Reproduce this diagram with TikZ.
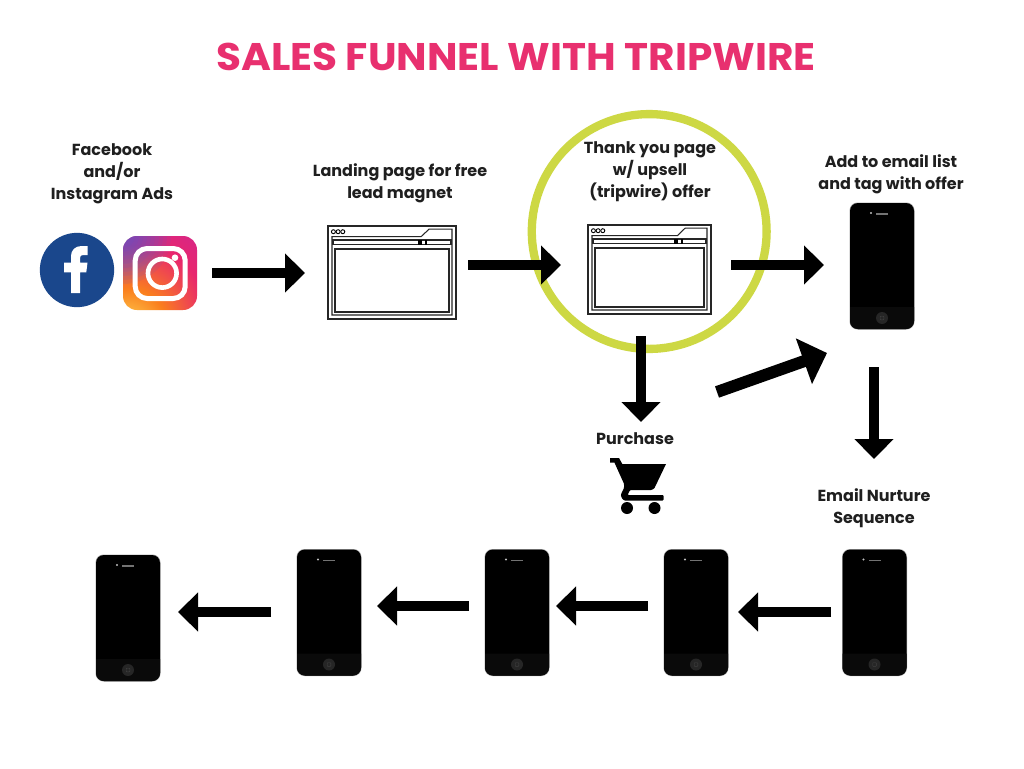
\documentclass[tikz,border=0pt]{standalone}
\usepackage{fontspec}
\setmainfont{Poppins}[BoldFont={Poppins Bold}]
\usetikzlibrary{arrows.meta}
\definecolor{titlepink}{HTML}{E8306F}
\definecolor{ringgreen}{HTML}{CDD844}
\definecolor{fbblue}{HTML}{1A478C}
\definecolor{lbl}{HTML}{1F1F1F}
\definecolor{igY}{HTML}{FED350}
\definecolor{igO}{HTML}{FA7E1E}
\definecolor{igR}{HTML}{E8266E}
\definecolor{igM}{HTML}{C9259A}
\definecolor{igP}{HTML}{A32CB8}
\definecolor{igB}{HTML}{4F5BD5}
\pgfdeclareradialshading{igshade}{\pgfpoint{-27bp}{-46bp}}{%
 color(0bp)=(igY);color(8bp)=(igY);color(26bp)=(igO);color(48bp)=(igR);color(72bp)=(igM);color(100bp)=(igP);color(125bp)=(igP)}
\tikzset{
 x=1pt,y=-1pt,
 lab/.style={font=\bfseries\fontsize{16}{22}\selectfont,text=lbl,align=center,inner sep=0pt},
 bigarrow/.style={line width=9.5pt,-{Triangle[length=20pt,width=38pt]},black},
 diagarrow/.style={line width=12pt,-{Triangle[length=24.5pt,width=47pt]},black},
 wline/.style={draw=black!85,line width=1.05pt,fill=white},
 anchorpt/.style={inner sep=0pt,minimum size=0pt},
 pics/phone/.style={code={
  \fill[black!35,rounded corners=8pt] (-32.5,-63.5) rectangle (32.5,63.5);
  \fill[black,rounded corners=8pt] (-32,-63) rectangle (32,63);
  \fill[black!96] (-32,41) -- (32,41) -- (32,55) [rounded corners=8pt] -- (32,63) -- (-32,63) [sharp corners] -- (-32,55) -- cycle;
  \fill[black!55] (-6,-52.6) rectangle (6,-51.2);
  \fill[black!25] (-11,-53) circle (1.1pt);
  \fill[black!85] (0,52) circle (6pt);
  \draw[black!75,line width=.4pt,rounded corners=.6pt] (-1.8,50.2) rectangle (1.8,53.8);
 }},
}
\newcommand{\browserbody}[2]{% width, height, origin at top left
  \draw[wline] (0,0) rectangle (#1,#2);
  \draw[wline] (4,10.7) -- (93*#1/128,10.7) -- (101*#1/128,3.2) -- (#1-4,3.2) -- (#1-4,#2-4) -- (4,#2-4) -- cycle;
  \draw[wline] (5,14) rectangle (#1-5,18.5);
  \fill (90*#1/128,14) rectangle (94*#1/128,18.5);
  \fill (97*#1/128,14) rectangle (99*#1/128,18.5);
  \draw[wline] (7,23) rectangle (#1-7,#2-7);
  \foreach \i in {0,1,2}{\draw[black,line width=.9pt] (5.4+4.7*\i,5.7) circle (2pt);}
}
\tikzset{pics/browser/.style 2 args={code={\browserbody{#1}{#2}}}}
\begin{document}
\begin{tikzpicture}
\useasboundingbox (0,0) rectangle (1024,768);
\fill[white] (0,0) rectangle (1024,768);

\node[font=\bfseries\fontsize{38.5}{44}\selectfont,text=titlepink,inner sep=0pt,xscale=1.055] (title) at (516,57) {SALES FUNNEL WITH TRIPWIRE};

% ring
\draw[ringgreen,line width=8.3pt] (649.2,231.5) circle (117.4pt);

% labels
\node[lab] (lFb) at (112,174) {Facebook\\and/or\\Instagram Ads};
\node[lab] (lLand) at (400,183) {Landing page for free\\lead magnet};
\node[lab] (lThank) at (650,172) {Thank you page\\w/ upsell\\(tripwire) offer};
\node[lab] (lEmail) at (891,174) {Add to email list\\and tag with offer};
\node[lab] (lPurch) at (635,439) {Purchase};
\node[lab] (lNurt) at (874,508) {Email Nurture\\Sequence};

% facebook
\node[circle,fill=fbblue,minimum size=74.3pt,inner sep=0pt] (fb) at (77,270) {};
\fill[white] (71,293) -- (71,272.3) -- (64,272.3) -- (64,262.7) -- (71,262.7) -- (71,256)
  .. controls (71,250) and (75.5,246) .. (81.5,246) -- (87.7,246) -- (87.7,255) -- (83,255)
  .. controls (81,255) and (80,256) .. (80,258) -- (80,262.7) -- (87.5,262.7) -- (86.3,272.3) -- (80,272.3) -- (80,293) -- cycle;

% instagram
\begin{scope}
 \clip[rounded corners=14pt] (123,236) rectangle (197,310);
 \node[anchorpt,minimum width=74pt,minimum height=74pt] (ig) at (160,273) {};
 \shade[shading=igshade] (123,236) rectangle (197,310);
 \foreach \r in {4,8,...,48}{\fill[igB,opacity=.1] (123,236) circle (\r pt);}
\end{scope}
\draw[white,line width=5pt,rounded corners=12pt] (135.2,248.5) rectangle (185.2,298.5);
\draw[white,line width=4.6pt] (162.3,273.3) circle (14.3pt);
\fill[white] (175,257.7) circle (3.3pt);

% browsers
\node[anchorpt] (b1) at (392,272.5) {};
\node[anchorpt] (b2) at (649.5,269.5) {};
\pic at (328,226) {browser={128}{93}};
\pic at (588,225) {browser={123}{89}};

% phones
\node[anchorpt] (p1) at (882,266) {};
\node[anchorpt] (p2) at (874.5,612.5) {};
\node[anchorpt] (p3) at (696,612.5) {};
\node[anchorpt] (p4) at (517,612.5) {};
\node[anchorpt] (p5) at (329,612.5) {};
\node[anchorpt] (p6) at (128,618) {};
\foreach \n in {p1,p2,p3,p4,p5,p6}{\pic at (\n) {phone};}

% cart
\fill (610,458) -- (619,458) -- (622.3,464) -- (666,464) -- (654.5,488) [rounded corners=1pt] -- (652,490) -- (630,490) -- (627.5,495) -- (663.5,495) -- (663.5,500.5) -- (624,500.5) [rounded corners=3pt] -- (620,496) -- (625,486) [sharp corners] -- (614.5,462.7) -- (610,462.7) -- cycle;
\node[circle,fill=black,minimum size=12pt,inner sep=0pt] (w1) at (627,508) {};
\node[circle,fill=black,minimum size=12pt,inner sep=0pt] (w2) at (654.5,508) {};

% arrow endpoints
\coordinate (a1s) at (212,273); \coordinate (a1e) at (305,273);
\coordinate (a2s) at (468,265); \coordinate (a2e) at (561,265);
\coordinate (a3s) at (731,265); \coordinate (a3e) at (824,265);
\coordinate (a4s) at (641,336); \coordinate (a4e) at (641,422);
\coordinate (a6s) at (874,367); \coordinate (a6e) at (874,459);
\coordinate (a7s) at (831,612); \coordinate (a7e) at (738,612);
\coordinate (a8s) at (648,606); \coordinate (a8e) at (556,606);
\coordinate (a9s) at (469,606); \coordinate (a9e) at (377,606);
\coordinate (a10s) at (271,612); \coordinate (a10e) at (178,612);
\foreach \k in {1,2,3,4,6,7,8,9,10}{\draw[bigarrow] (a\k s) -- (a\k e);}
\coordinate (a5s) at (717,392); \coordinate (a5e) at (827,353);
\draw[diagarrow] (a5s) -- (a5e);
\end{tikzpicture}
\end{document}
